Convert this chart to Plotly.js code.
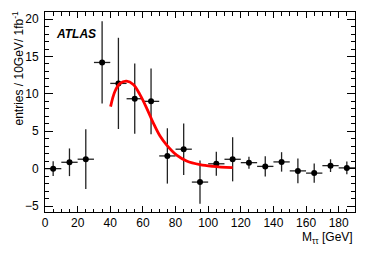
<!DOCTYPE html>
<html>
<head>
<meta charset="utf-8">
<script src="https://cdn.plot.ly/plotly-3.0.1.min.js"></script>
<style>html,body{margin:0;padding:0;background:#fff;}#chart{width:374px;height:253px;}</style>
</head>
<body>
<div id="chart"></div>
<script>
const binCenters = [5, 15, 25, 35, 45, 55, 65, 75, 85, 95, 105, 115, 125, 135, 145, 155, 165, 175, 185];
const entries = [0.0, 0.85, 1.26, 14.2, 11.4, 9.35, 9.0, 1.7, 2.6, -1.8, 0.65, 1.25, 0.8, 0.3, 0.9, -0.3, -0.6, 0.4, 0.1];
const entryErrors = [1.0, 1.85, 4.0, 5.5, 6.1, 4.7, 4.4, 3.7, 3.45, 2.9, 1.6, 2.95, 0.8, 1.35, 1.3, 1.65, 1.3, 0.85, 0.85];
const binHalfWidth = 5;
const fitX = [40.2, 42.9, 46, 50, 54.1, 58.2, 62.3, 66.4, 70.5, 74.6, 80.7, 86.8, 95, 103, 115];
const fitY = [8.3, 10.35, 11.4, 11.7, 11.25, 9.9, 8.1, 6.1, 4.36, 3.15, 1.8, 1.03, 0.54, 0.31, 0.13];

const data = [
  {
    x: binCenters, y: entries, type: 'scatter', mode: 'markers',
    marker: {color: '#000', size: 6},
    error_y: {type: 'data', array: entryErrors, visible: true, color: '#222', thickness: 1.3, width: 0},
    error_x: {type: 'constant', value: binHalfWidth, visible: true, color: '#222', thickness: 1.3, width: 0},
    hoverinfo: 'none'
  },
  {
    x: fitX, y: fitY, type: 'scatter', mode: 'lines',
    line: {color: '#ff0000', width: 2.8, shape: 'spline'},
    hoverinfo: 'none'
  }
];

const axisCommon = {
  showgrid: false, zeroline: false, showline: true, linecolor: '#000', linewidth: 1,
  mirror: 'allticks', ticks: 'inside', tickcolor: '#000', tickwidth: 1,
  tickfont: {family: 'Liberation Sans, Arial, sans-serif', size: 12, color: '#000'}
};

const layout = {
  width: 374, height: 253,
  margin: {l: 45, r: 19, t: 12, b: 41, pad: 0},
  paper_bgcolor: '#fff', plot_bgcolor: '#fff',
  showlegend: false,
  xaxis: Object.assign({}, axisCommon, {
    range: [0, 190], dtick: 20, tick0: 0, ticklen: 6,
    minor: {dtick: 5, ticklen: 3.5, ticks: 'inside', tickcolor: '#000'}
  }),
  yaxis: Object.assign({}, axisCommon, {
    range: [-5.8, 20.95], dtick: 5, tick0: 0, ticklen: 8, ticklabelstandoff: 3,
    minor: {dtick: 1, ticklen: 4, ticks: 'inside', tickcolor: '#000'}
  }),
  annotations: [
    {
      text: 'entries / 10GeV/ 1fb<sup>-1</sup>', textangle: -90,
      xref: 'paper', yref: 'paper', x: 0, y: 1, xanchor: 'right', yanchor: 'top',
      xshift: -18, yshift: 3, showarrow: false,
      font: {family: 'Liberation Sans, Arial, sans-serif', size: 12, color: '#000'}
    },
    {
      text: 'M<sub>ττ</sub> [GeV]',
      xref: 'paper', yref: 'paper', x: 1, y: 0, xanchor: 'right', yanchor: 'top',
      yshift: -16, showarrow: false,
      font: {family: 'Liberation Sans, Arial, sans-serif', size: 12, color: '#000'}
    },
    {
      text: '<b><i>ATLAS</i></b>',
      xref: 'paper', yref: 'paper', x: 0, y: 1, xanchor: 'left', yanchor: 'top',
      xshift: 9, yshift: -13, showarrow: false,
      font: {family: 'Liberation Sans, Arial, sans-serif', size: 12, color: '#000'}
    }
  ]
};

Plotly.newPlot('chart', data, layout, {staticPlot: true, displayModeBar: false});
</script>
</body>
</html>
